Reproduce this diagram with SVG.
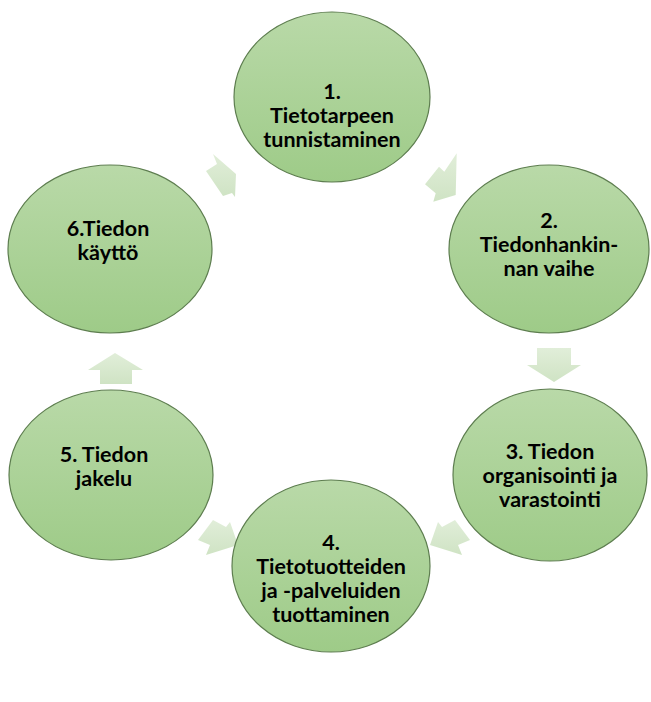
<svg xmlns="http://www.w3.org/2000/svg" width="651" height="702" viewBox="0 0 651 702">
<style>
.node ellipse{fill:url(#g);stroke:#5d7d4f;stroke-width:1.2}
.node text{font-family:"Lato","Liberation Sans",sans-serif;font-weight:bold;font-size:21.5px;fill:#000;text-anchor:middle}
.arr{fill:url(#ag);stroke:none}
</style>
<defs>
<linearGradient id="g" x1="0" y1="0" x2="0" y2="1">
<stop offset="0" stop-color="#b9d9a8"/>
<stop offset="1" stop-color="#9ecb88"/>
</linearGradient>
<linearGradient id="ag" x1="0" y1="0" x2="0" y2="1">
<stop offset="0" stop-color="#e1eed9"/>
<stop offset="1" stop-color="#cfe3c4"/>
</linearGradient>
</defs>
<rect width="651" height="702" fill="#fff"/>
<g id="connectors">
<polygon class="arr" points="236,174 235,197 232,193 223,196 206,171 217,164 213,154"/>
<polygon class="arr" points="455.7,195 433.3,201.7 435.7,193.3 425,184.3 439,166.7 444.3,171.7 456.7,153.3"/>
<polygon class="arr" points="537,348 571,348 571,365 581,365 554,382 527,365 537,365"/>
<polygon class="arr" points="430,545 438,522 442,527 455,520 470,540 458,545 462,555"/>
<polygon class="arr" points="238,545 230,522 226,527 213,520 198,540 210,545 206,555"/>
<polygon class="arr" points="115,353 143,370 132,370 132,384 100,384 100,370 88,370"/>
</g>
<g id="n1" class="node"><ellipse cx="332" cy="97" rx="98" ry="85"/>
<text x="332" y="99">1.</text><text x="332" y="123">Tietotarpeen</text><text x="332" y="147">tunnistaminen</text></g>
<g id="n2" class="node"><ellipse cx="549" cy="249" rx="100" ry="84"/>
<text x="549" y="228">2.</text><text x="549" y="252">Tiedonhankin-</text><text x="549" y="276">nan vaihe</text></g>
<g id="n3" class="node"><ellipse cx="550" cy="475" rx="97" ry="86"/>
<text x="550" y="459">3. Tiedon</text><text x="550" y="483">organisointi ja</text><text x="550" y="507">varastointi</text></g>
<g id="n4" class="node"><ellipse cx="331" cy="566" rx="99" ry="86"/>
<text x="331" y="550">4.</text><text x="331" y="574">Tietotuotteiden</text><text x="331" y="598">ja -palveluiden</text><text x="331" y="622">tuottaminen</text></g>
<g id="n5" class="node"><ellipse cx="111" cy="475" rx="102" ry="85"/>
<text x="104" y="462">5. Tiedon</text><text x="104" y="486">jakelu</text></g>
<g id="n6" class="node"><ellipse cx="110" cy="249" rx="102" ry="84"/>
<text x="108" y="236">6.Tiedon</text><text x="108" y="260">käyttö</text></g>
</svg>
